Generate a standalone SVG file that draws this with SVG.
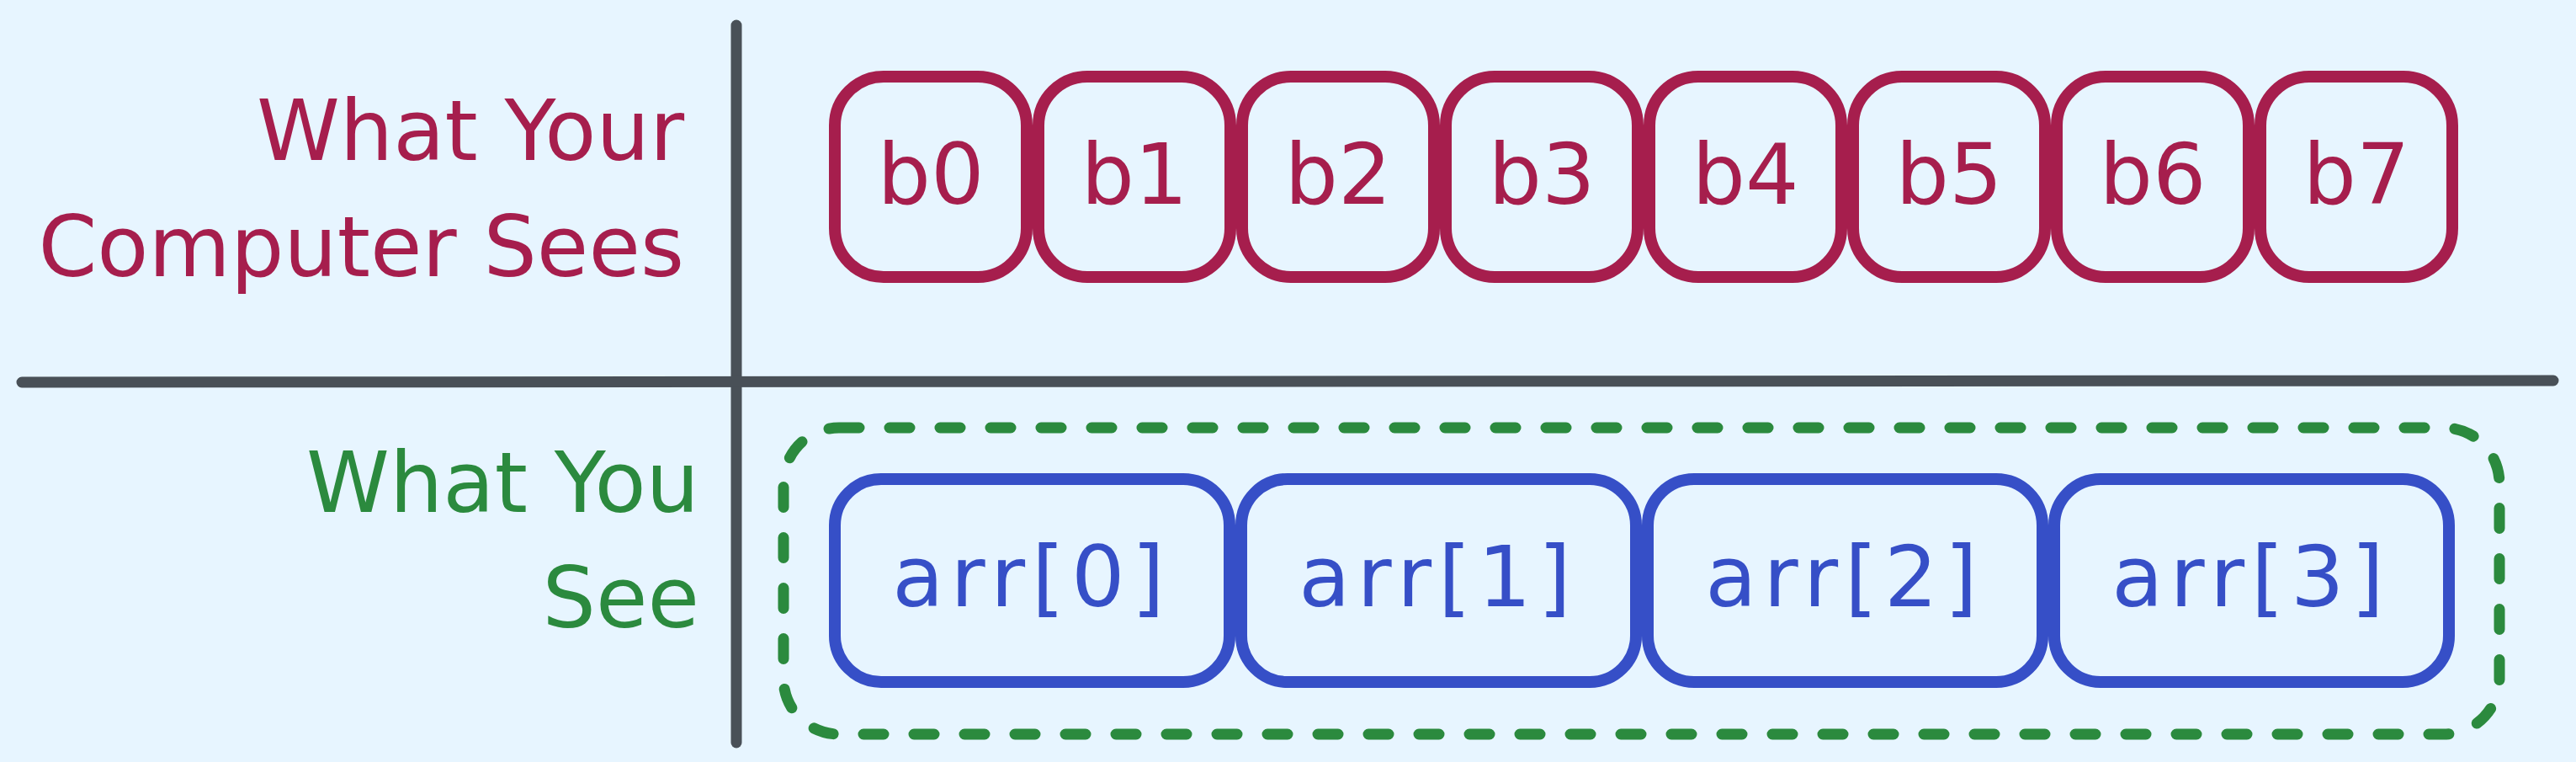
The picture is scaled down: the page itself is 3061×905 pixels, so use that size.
<svg xmlns="http://www.w3.org/2000/svg" width="3061" height="905" viewBox="0 0 3061 905">
<style>
  .lbl { font-family: "DejaVu Sans", "Liberation Sans", sans-serif; font-size: 100px; }
  .pink { fill: #a61e4d; }
  .green { fill: #2b8a3e; }
  .blue { fill: #364fc7; }
  .byte rect { fill: none; stroke: #a61e4d; stroke-width: 14; }
  .elem rect { fill: none; stroke: #364fc7; stroke-width: 14; }
  .byte text, .elem text { text-anchor: middle; }
  .axis { stroke: #495057; stroke-width: 13; stroke-linecap: round; fill: none; }
</style>
<rect x="0" y="0" width="3061" height="905" fill="#e7f5ff"/>

<g id="connectors">
  <line class="axis" x1="875" y1="30" x2="875" y2="882"/>
  <line class="axis" x1="26" y1="454" x2="3034" y2="452"/>
</g>

<g id="label-computer">
  <text class="lbl pink" x="813" y="190" text-anchor="end">What Your</text>
  <text class="lbl pink" x="813" y="328" text-anchor="end">Computer Sees</text>
</g>
<g id="label-you">
  <text class="lbl green" x="831" y="608" text-anchor="end">What You</text>
  <text class="lbl green" x="831" y="745" text-anchor="end">See</text>
</g>

<g id="b0" class="byte"><rect x="992" y="91" width="228" height="238" rx="58"/><text class="lbl pink" x="1106" y="242">b0</text></g>
<g id="b1" class="byte"><rect x="1234" y="91" width="228" height="238" rx="58"/><text class="lbl pink" x="1348" y="242">b1</text></g>
<g id="b2" class="byte"><rect x="1476" y="91" width="228" height="238" rx="58"/><text class="lbl pink" x="1590" y="242">b2</text></g>
<g id="b3" class="byte"><rect x="1718" y="91" width="228" height="238" rx="58"/><text class="lbl pink" x="1832" y="242">b3</text></g>
<g id="b4" class="byte"><rect x="1960" y="91" width="228" height="238" rx="58"/><text class="lbl pink" x="2074" y="242">b4</text></g>
<g id="b5" class="byte"><rect x="2202" y="91" width="228" height="238" rx="58"/><text class="lbl pink" x="2316" y="242">b5</text></g>
<g id="b6" class="byte"><rect x="2444" y="91" width="228" height="238" rx="58"/><text class="lbl pink" x="2558" y="242">b6</text></g>
<g id="b7" class="byte"><rect x="2686" y="91" width="228" height="238" rx="58"/><text class="lbl pink" x="2800" y="242">b7</text></g>

<g id="array-group">
  <rect x="931" y="508" width="2039" height="364" rx="66" fill="none" stroke="#2b8a3e" stroke-width="13" stroke-dasharray="24 36" stroke-linecap="round"/>
</g>

<g id="arr0" class="elem"><rect x="992" y="569" width="469" height="241" rx="55"/><text class="lbl blue" x="1226" y="720" letter-spacing="8">arr[0]</text></g>
<g id="arr1" class="elem"><rect x="1475" y="569" width="469" height="241" rx="55"/><text class="lbl blue" x="1709" y="720" letter-spacing="8">arr[1]</text></g>
<g id="arr2" class="elem"><rect x="1958" y="569" width="469" height="241" rx="55"/><text class="lbl blue" x="2192" y="720" letter-spacing="8">arr[2]</text></g>
<g id="arr3" class="elem"><rect x="2441" y="569" width="469" height="241" rx="55"/><text class="lbl blue" x="2675" y="720" letter-spacing="8">arr[3]</text></g>
</svg>
